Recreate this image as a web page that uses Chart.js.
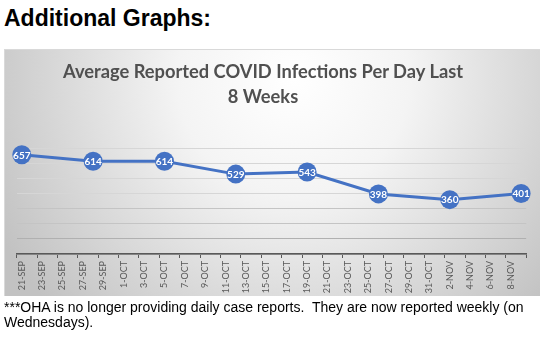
<!DOCTYPE html>
<html>
<head>
<meta charset="utf-8">
<script src="https://cdn.jsdelivr.net/npm/chart.js@4.4.1/dist/chart.umd.min.js"></script>
<style>
  html, body { margin: 0; padding: 0; background: #ffffff; }
  body { width: 540px; height: 341px; position: relative; overflow: hidden; }
  #heading {
    position: absolute; left: 4px; top: 5px;
    font: bold 23px "Liberation Sans", Arial, sans-serif; line-height: 26px; color: #000;
  }
  #box {
    position: absolute; left: 4px; top: 49px; width: 536px; height: 247px;
    border-top: 1px solid #d9d9d9; border-left: 1px solid #d9d9d9; box-sizing: border-box;
  }
  #chart { position: absolute; left: 4px; top: 49px; }
  #title {
    position: absolute; left: 0; top: 59px; width: 526px; text-align: center;
    font: bold 18.3px Lato, "Open Sans", sans-serif; line-height: 25px; color: #505050;
  }
  #note {
    position: absolute; left: 4px; top: 300px; white-space: pre;
    font: 14px "Liberation Sans", Arial, sans-serif; line-height: 15px; color: #000;
  }
</style>
</head>
<body>
<div id="heading">Additional Graphs:</div>
<canvas id="chart" width="536" height="247"></canvas>
<div id="box"></div>
<div id="title">Average Reported COVID Infections Per Day Last<br>8 Weeks</div>
<div id="note">***OHA is no longer providing daily case reports.  They are now reported weekly (on
Wednesdays).</div>
<script>
// Weekly averages, positioned by days elapsed since 21-SEP
const dayOffsets = [0, 7, 14, 21, 28, 35, 42, 49];
const avgCases = [657, 614, 614, 529, 543, 398, 360, 401];

// Date labels shown every second day along the axis
const tickLabels = [
  '21-SEP', '23-SEP', '25-SEP', '27-SEP', '29-SEP', '1-OCT', '3-OCT', '5-OCT',
  '7-OCT', '9-OCT', '11-OCT', '13-OCT', '15-OCT', '17-OCT', '19-OCT', '21-OCT',
  '23-OCT', '25-OCT', '27-OCT', '29-OCT', '31-OCT', '2-NOV', '4-NOV', '6-NOV', '8-NOV'
];

const blue = '#4472C4';
const axisGray = '#595959';

// Soft radial background behind the plot
const backgroundPlugin = {
  id: 'radialBackground',
  beforeDraw(chart) {
    const { ctx, width, height } = chart;
    const g = ctx.createRadialGradient(width * 0.54, height * 0.12, 0, width * 0.54, height * 0.12, width * 0.62);
    g.addColorStop(0, '#ffffff');
    g.addColorStop(0.35, '#f4f4f4');
    g.addColorStop(1, '#c2c2c2');
    ctx.save();
    ctx.fillStyle = g;
    ctx.fillRect(0, 0, width, height);
    ctx.restore();
  }
};

// White value labels inside each marker
const valueLabelPlugin = {
  id: 'valueLabels',
  afterDatasetsDraw(chart) {
    const { ctx } = chart;
    const meta = chart.getDatasetMeta(0);
    ctx.save();
    ctx.font = 'bold 10px Lato, "Open Sans", sans-serif';
    ctx.fillStyle = '#ffffff';
    ctx.textAlign = 'center';
    ctx.textBaseline = 'middle';
    meta.data.forEach((pt, i) => {
      ctx.fillText(String(avgCases[i]), pt.x, pt.y + 0.5);
    });
    ctx.restore();
  }
};

const dayWidthPx = 510.3 / 50;

new Chart(document.getElementById('chart'), {
  type: 'line',
  data: {
    datasets: [{
      data: dayOffsets.map((d, i) => ({ x: d, y: avgCases[i] })),
      borderColor: blue,
      backgroundColor: blue,
      borderWidth: 3,
      pointRadius: 9.5,
      pointBackgroundColor: blue,
      pointBorderColor: blue,
      pointBorderWidth: 0,
      tension: 0,
      clip: false
    }]
  },
  options: {
    responsive: false,
    animation: false,
    events: [],
    layout: { padding: { left: 12.7, right: 13, top: 99.3, bottom: 0 } },
    plugins: {
      legend: { display: false },
      title: { display: false },
      tooltip: { enabled: false }
    },
    scales: {
      x: {
        type: 'linear',
        min: -0.5,
        max: 49.5,
        afterBuildTicks(scale) {
          const t = [];
          for (let k = 0; k <= tickLabels.length; k++) t.push({ value: -0.5 + 2 * k });
          scale.ticks = t;
        },
        afterFit(scale) { scale.height = 42; },
        ticks: {
          autoSkip: false,
          minRotation: 90,
          maxRotation: 90,
          padding: 3,
          labelOffset: dayWidthPx / 2,
          color: axisGray,
          font: { family: 'Lato, "Open Sans", sans-serif', size: 9 },
          callback(value, index) { return tickLabels[index] || ''; }
        },
        grid: {
          drawOnChartArea: false,
          drawTicks: true,
          tickLength: 4,
          color: axisGray,
          lineWidth: 1
        },
        border: { display: true, color: axisGray, width: 1.5 }
      },
      y: {
        min: 0,
        max: 700,
        afterFit(scale) { scale.width = 0; },
        ticks: { display: false, stepSize: 100 },
        grid: {
          drawTicks: false,
          lineWidth: 1,
          color(ctx) {
            const v = ctx.tick ? ctx.tick.value : 0;
            return v >= 400 ? '#d6d6d6' : (v >= 200 ? '#c4c4c4' : '#b0b0b0');
          }
        },
        border: { display: false }
      }
    }
  },
  plugins: [backgroundPlugin, valueLabelPlugin]
});
</script>
</body>
</html>
